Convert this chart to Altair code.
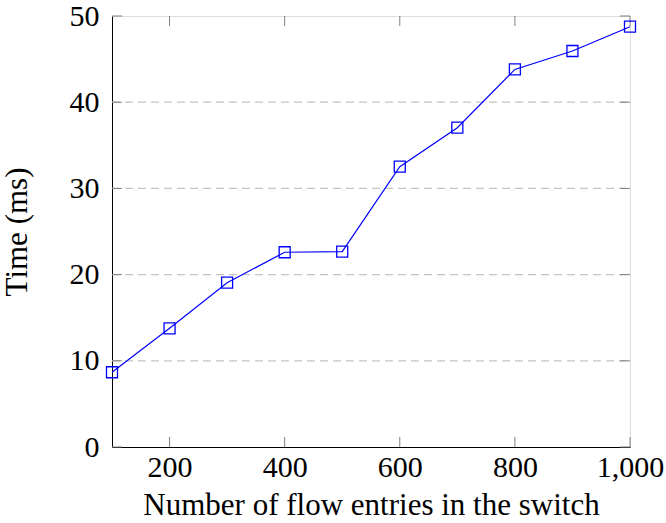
import altair as alt
import pandas as pd

entries = [100, 200, 300, 400, 500, 600, 700, 800, 900, 1000]
time_ms = [8.67, 13.77, 19.06, 22.59, 22.66, 32.52, 37.04, 43.8, 45.94, 48.76]
x_ticks = [200, 400, 600, 800, 1000]
y_ticks = [0, 10, 20, 30, 40, 50]
grid_vals = [10, 20, 30, 40]

df = pd.DataFrame({"n": entries, "t": time_ms})
xt = pd.DataFrame({"n": x_ticks})
yt = pd.DataFrame({"t": y_ticks})
gd = pd.DataFrame({"t": grid_vals})

W, H = 518, 431
FONT = "Liberation Serif"
TL = 10
LFS = 30
TFS = 31

xscale = alt.Scale(domain=[100, 1000], nice=False, zero=False)
yscale = alt.Scale(domain=[0, 50], nice=False)

xaxis = alt.Axis(values=x_ticks, format=",d", ticks=False, domainColor="black",
                 labelFont=FONT, labelFontSize=LFS, labelColor="black", labelPadding=5,
                 labelFlush=False, labelOverlap=False,
                 title="Number of flow entries in the switch", titleFont=FONT,
                 titleFontSize=TFS, titleFontWeight="normal", titleColor="black",
                 titlePadding=8, grid=False)
yaxis = alt.Axis(values=y_ticks, ticks=False, domainColor="black",
                 labelFont=FONT, labelFontSize=LFS, labelColor="black", labelPadding=13,
                 labelFlush=False, labelOverlap=False,
                 title="Time (ms)", titleFont=FONT, titleFontSize=TFS,
                 titleFontWeight="normal", titleColor="black", titlePadding=36,
                 grid=False)

grid = alt.Chart(gd).mark_rule(color="#c4c4c4", strokeWidth=1.2, strokeDash=[8, 5]).encode(
    y=alt.Y("t:Q", scale=yscale), x=alt.value(0), x2=alt.value(W))

line = alt.Chart(df).mark_line(color="#0000ff", strokeWidth=1.2).encode(
    x=alt.X("n:Q", scale=xscale, axis=xaxis),
    y=alt.Y("t:Q", scale=yscale, axis=yaxis),
)
pts = alt.Chart(df).mark_point(shape="square", filled=False, color="#0000ff",
                                size=121, strokeWidth=1.3, opacity=1).encode(
    x=alt.X("n:Q", scale=xscale),
    y=alt.Y("t:Q", scale=yscale),
)

tick_color = "#808080"
xt_bot = alt.Chart(xt).mark_rule(color=tick_color, strokeWidth=1).encode(
    x=alt.X("n:Q", scale=xscale), y=alt.value(H), y2=alt.value(H - TL))
xt_top = alt.Chart(xt).mark_rule(color=tick_color, strokeWidth=1).encode(
    x=alt.X("n:Q", scale=xscale), y=alt.value(0), y2=alt.value(TL))
yt_left = alt.Chart(yt).mark_rule(color=tick_color, strokeWidth=1).encode(
    y=alt.Y("t:Q", scale=yscale), x=alt.value(0), x2=alt.value(TL))
yt_right = alt.Chart(yt).mark_rule(color=tick_color, strokeWidth=1).encode(
    y=alt.Y("t:Q", scale=yscale), x=alt.value(W), x2=alt.value(W - TL))

chart = alt.layer(grid, xt_bot, xt_top, yt_left, yt_right, line, pts).properties(
    width=W, height=H,
    autosize=alt.AutoSizeParams(type="none"),
    padding={"left": 112, "top": 16, "right": 36, "bottom": 76},
).configure_view(stroke="black", strokeWidth=1.2).configure(background="white")

chart.save("out.html", embed_options={"renderer": "svg", "actions": False})
